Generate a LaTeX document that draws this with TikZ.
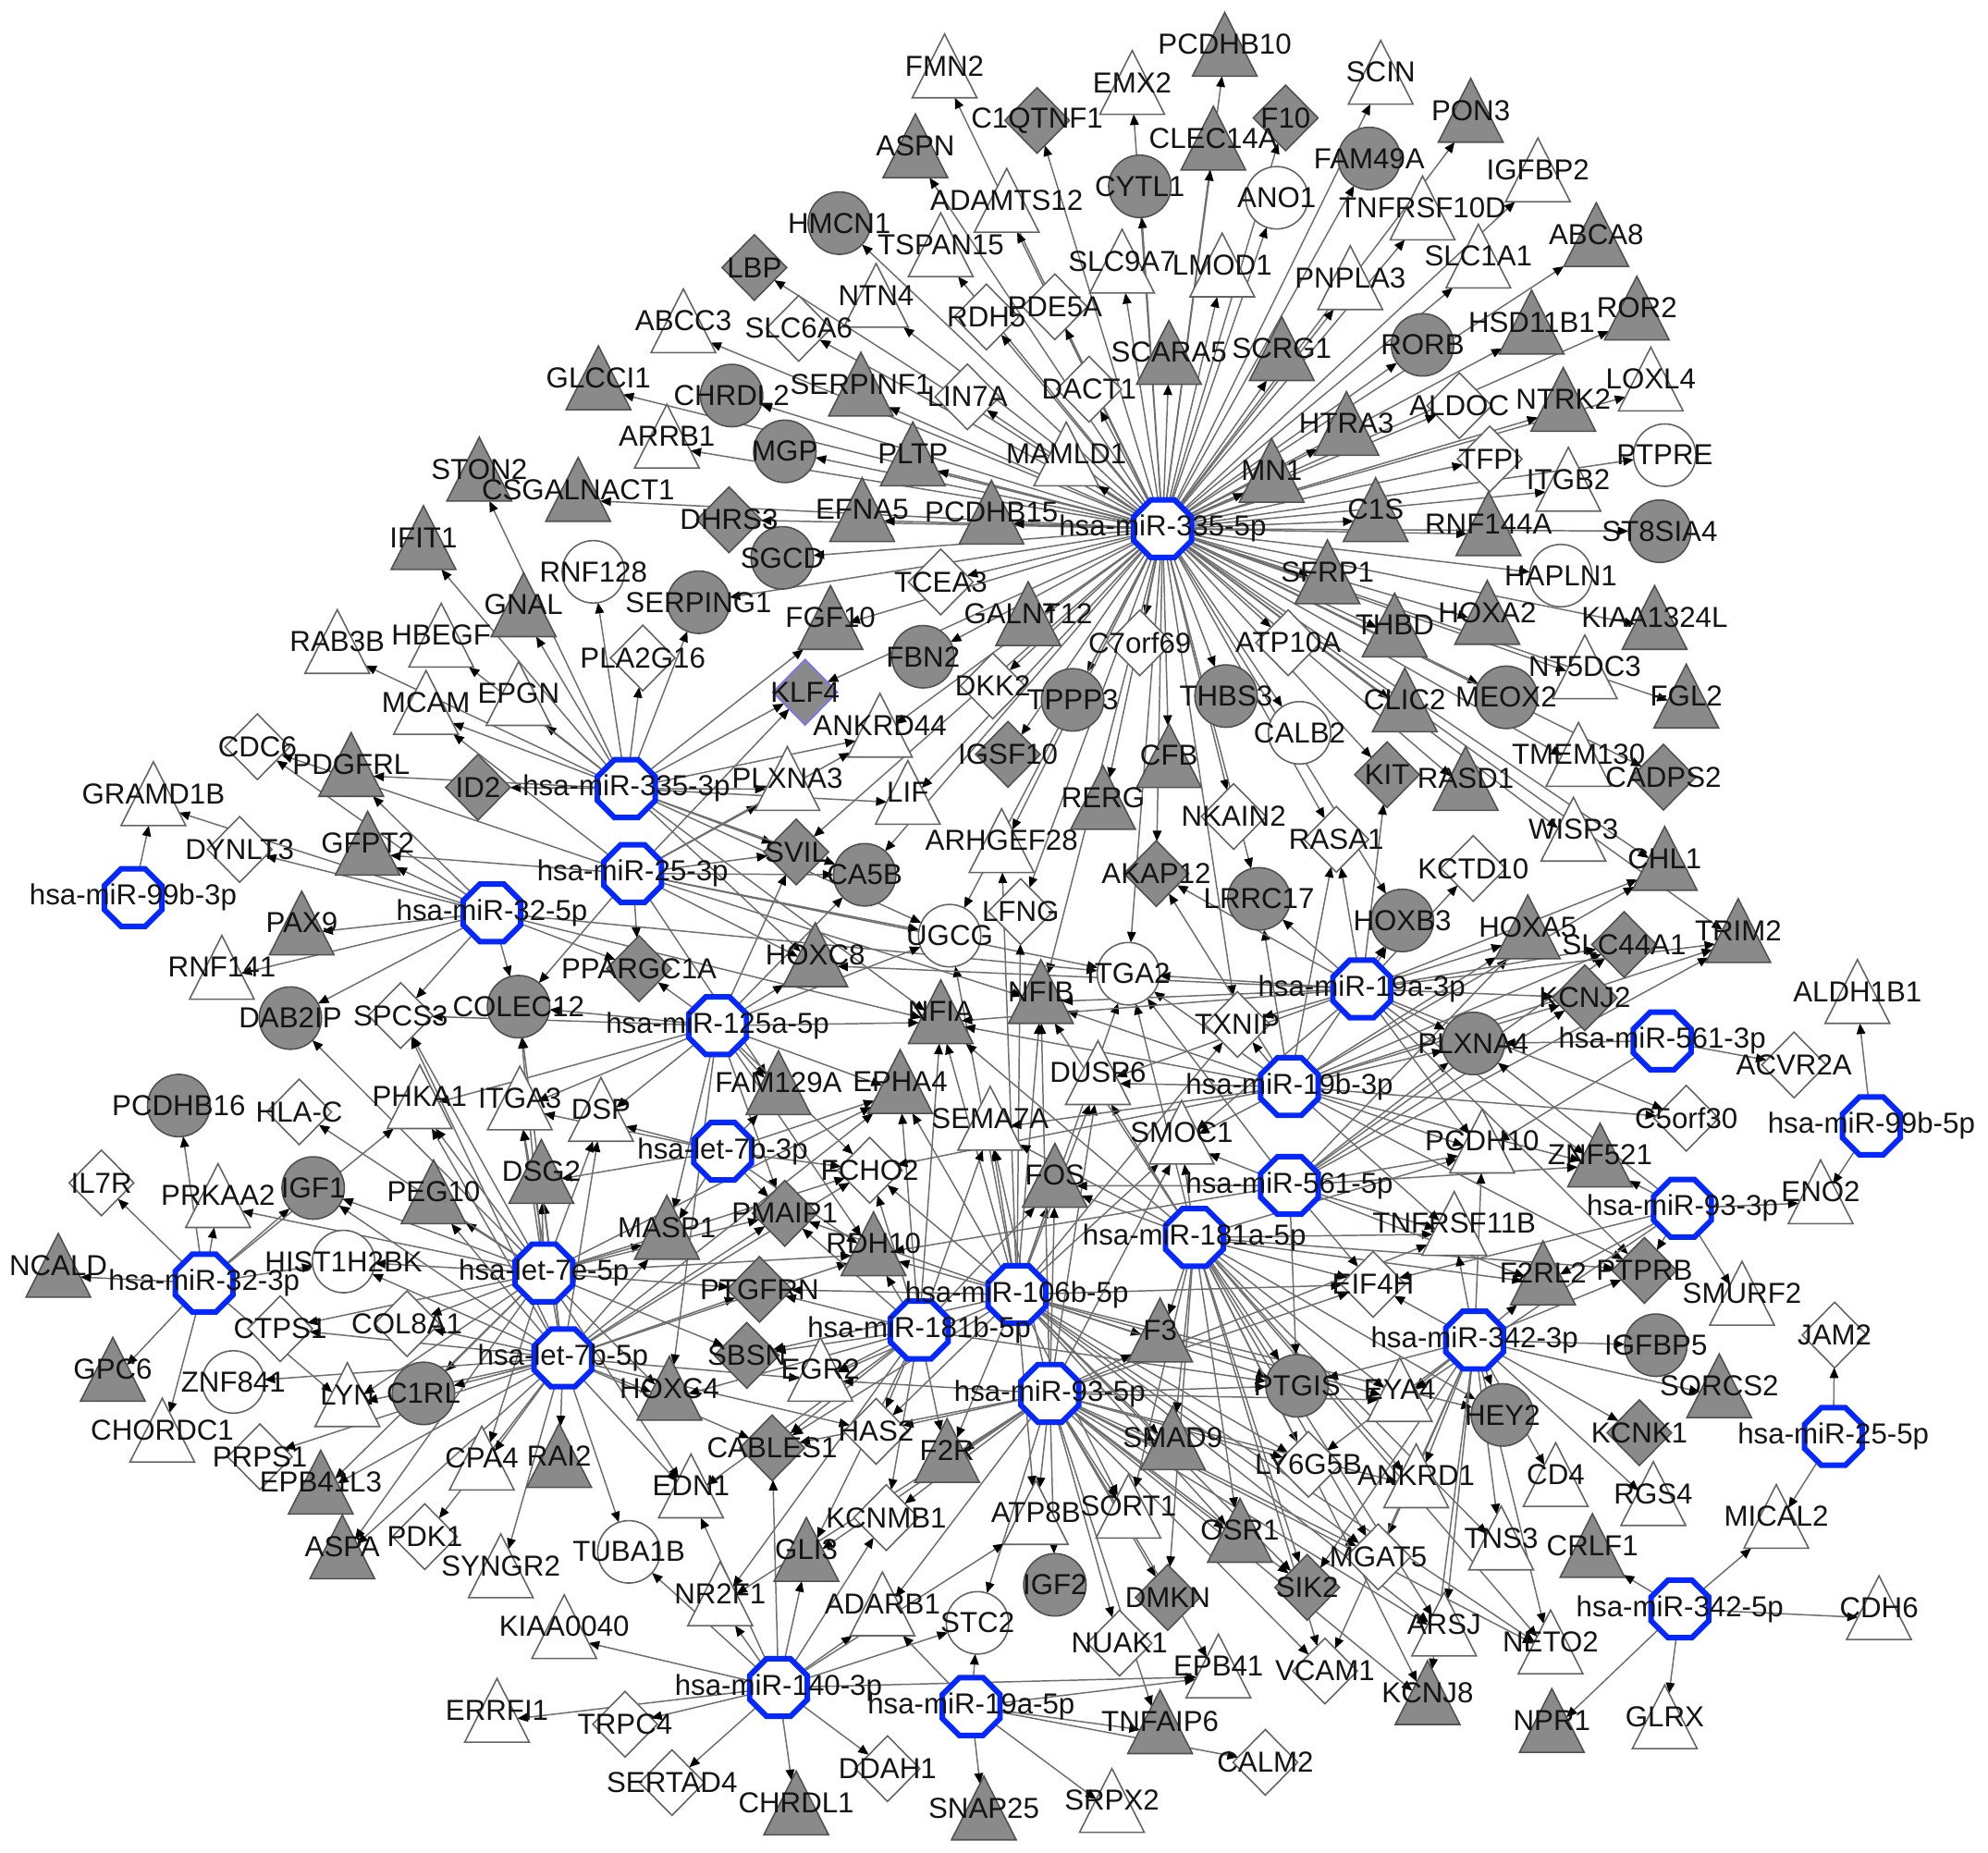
\documentclass[tikz,border=0pt]{standalone}
\usepackage{fontspec}
\setmainfont{Liberation Sans}
\usetikzlibrary{shapes.geometric,arrows.meta}
\definecolor{gfill}{RGB}{138,138,138}
\definecolor{gline}{RGB}{80,80,80}
\definecolor{wline}{RGB}{100,100,100}
\definecolor{ecol}{RGB}{110,110,110}
\definecolor{hubblue}{RGB}{5,40,255}
\definecolor{txt}{RGB}{20,20,20}
\pgfdeclarelayer{bg}\pgfdeclarelayer{edges}\pgfdeclarelayer{labels}
\pgfsetlayers{bg,edges,main,labels}
\tikzset{
 nb/.style={inner sep=0pt,outer sep=0pt,line width=0.45pt},
 trishape/.style={nb,regular polygon,regular polygon sides=3,minimum size=0.808cm,yshift=-0.115cm,yscale=1.138},
 tg/.style={trishape,fill=gfill,draw=gline},
 tw/.style={trishape,fill=white,draw=wline},
 dg/.style={nb,diamond,minimum width=0.70cm,minimum height=0.71cm,fill=gfill,draw=gline},
 dw/.style={nb,diamond,minimum width=0.70cm,minimum height=0.71cm,fill=white,draw=wline},
 dk/.style={dg,draw=blue!55},
 cg/.style={nb,circle,minimum size=0.675cm,fill=gfill,draw=gline},
 cw/.style={nb,circle,minimum size=0.675cm,fill=white,draw=wline},
 hub/.style={regular polygon,regular polygon sides=8,minimum size=0.675cm,inner sep=0pt,outer sep=0pt,fill=white,draw=hubblue,line width=1.7pt},
 lbl/.style={inner sep=0pt,font=\fontsize{8.9}{10}\selectfont,text=txt},
 edge/.style={draw=ecol,line width=0.42pt,-{Triangle[length=1.15mm,width=0.95mm,color=black]}},
}
\def\genelist{FMN2/745/52/tw, PCDHB10/966/35/tg, EMX2/893/65/tw, SCIN/1089/57/tw, PON3/1160/87/tg,
C1QTNF1/818/95/dg, F10/1014/93/dg, ASPN/722/115/tg, CLEC14A/957/109/tg, FAM49A/1080/125/cg,
IGFBP2/1213/134/tw, ADAMTS12/794/158/tw, CYTL1/899/147/cg, ANO1/1007/156/cw, TNFRSF10D/1122/164/tw,
HMCN1/662/176/cg, TSPAN15/742/193/tw, ABCA8/1259/185/tg, SLC9A7/885/206/tw, LMOD1/964/209/tw,
PNPLA3/1065/219/tw, SLC1A1/1166/202/tw, LBP/595/211/dg, NTN4/691/233/tw, RDH5/778/250/dw,
PDE5A/832/242/dw, HSD11B1/1208/254/tg, ROR2/1291/243/tg, RORB/1122/272/cg, ABCC3/539/253/tw,
SLC6A6/630/259/dw, SCARA5/922/278/tg, SCRG1/1011/275/tg, LOXL4/1302/299/tw, GLCCI1/472/298/tg,
CHRDL2/577/312/cg, SERPINF1/679/303/tg, LIN7A/763/313/dw, DACT1/859/307/dw, ALDOC/1151/320/dw,
NTRK2/1233/315/tg, HTRA3/1062/334/tg, ARRB1/526/344/tw, MGP/619/356/cg, PLTP/720/358/tg,
MAMLD1/841/358/tw, MN1/1003/371/tg, TFPI/1175/362/dw, ITGB2/1237/378/tw, PTPRE/1313/359/cw,
STON2/378/370/tg, CSGALNACT1/456/386/tg, C1S/1085/402/tg, RNF144A/1174/413/tg, ST8SIA4/1309/419/cg,
IFIT1/334/424/tg, DHRS3/575/410/dg, EFNA5/680/402/tg, PCDHB15/782/404/tg, SGCD/617/440/cg,
HAPLN1/1231/454/cw, RNF128/468/451/cw, TCEA3/742/459/dw, SFRP1/1047/451/tg, SERPING1/551/475/cg,
GNAL/413/477/tg, FGF10/655/487/tg, GALNT12/811/484/tg, HOXA2/1173/483/tg, KIAA1324L/1305/487/tg,
THBD/1100/493/tg, RAB3B/266/506/tw, HBEGF/348/501/tw, PLA2G16/507/519/dw, FBN2/728/518/cg,
C7orf69/899/507/dw, ATP10A/1016/507/dw, NT5DC3/1250/526/tw, MCAM/336/554/tw, EPGN/409/547/tw,
KLF4/635/546/dk, DKK2/783/541/dw, TPPP3/846/552/cg, THBS3/967/549/cg, CLIC2/1108/552/tg,
MEOX2/1188/550/cg, FGL2/1330/549/tg, CALB2/1025/578/cw, ANKRD44/694/572/tw, TMEM130/1245/595/tw,
CDC6/203/589/dw, PDGFRL/277/603/tg, IGSF10/795/595/dg, CFB/922/596/tg, KIT/1094/611/dg,
RASD1/1156/614/tg, CADPS2/1312/613/dg, GRAMD1B/121/626/tw, ID2/377/621/dg, PLXNA3/621/614/tw,
LIF/716/625/tw, RERG/870/629/tg, NKAIN2/973/644/dw, WISP3/1241/654/tw, RASA1/1054/662/dw,
DYNLT3/189/670/dw, GFPT2/290/665/tg, SVIL/628/672/dg, ARHGEF28/790/663/tw, AKAP12/912/689/dg,
LRRC17/993/709/cg, KCTD10/1162/685/dw, CHL1/1313/677/tg, CA5B/682/690/cg, PAX9/238/728/tg,
LFNG/805/719/dw, UGCG/749/738/cw, HOXB3/1106/726/cg, HOXA5/1205/731/tg, TRIM2/1371/734/tg,
RNF141/175/763/tw, HOXC8/643/753/tg, ITGA2/890/768/cw, SLC44A1/1281/745/dg, KCNJ2/1250/787/dg,
ALDH1B1/1465/782/tw, DAB2IP/229/803/cg, SPCS3/316/801/dw, COLEC12/409/794/cg, PPARGC1A/504/764/dg,
NFIB/821/782/tg, NFIA/742/798/tg, TXNIP/976/808/dw, PLXNA4/1162/823/cg, ACVR2A/1415/840/dw,
FAM129A/614/854/tg, EPHA4/710/853/tg, PCDHB16/141/872/cg, HLA-C/236/877/dw, PHKA1/331/865/tw,
ITGA3/410/866/tw, DSP/474/875/tw, DUSP6/866/846/tw, SEMA7A/781/882/tw, C5orf30/1330/882/dw,
SMOC1/932/893/tw, PCDH10/1169/900/tw, ZNF521/1262/911/tg, DSG2/427/924/tg, FCHO2/686/923/dw,
FOS/832/927/tg, IL7R/80/933/dw, PRKAA2/172/943/tw, IGF1/247/937/cg, PEG10/342/940/tg,
ENO2/1436/940/tw, MASP1/526/968/tg, PMAIP1/619/957/dg, TNFRSF11B/1147/965/tw, NCALD/46/998/tg,
HIST1H2BK/271/995/cw, RDH10/689/981/tg, F2RL2/1217/1004/tg, PTPRB/1297/1002/dg, SMURF2/1374/1020/tw,
EIF4H/1083/1013/dw, PTGFRN/599/1017/dg, COL8A1/321/1044/dw, CTPS1/221/1048/dw, F3/915/1049/tg,
IGFBP5/1306/1061/cg, JAM2/1447/1053/dw, GPC6/89/1080/tg, ZNF841/184/1090/cw, LYN/274/1100/tw,
C1RL/334/1099/cg, SBSN/589/1069/dg, EGR2/647/1080/tw, PTGIS/1023/1093/cg, SORCS2/1356/1093/tg,
HOXC4/528/1095/tg, EYA4/1104/1096/tw, HEY2/1185/1116/cg, CHORDC1/128/1128/tw, SMAD9/925/1134/tg,
KCNK1/1293/1130/dg, PRPS1/205/1149/dw, CPA4/380/1150/tw, RAI2/441/1148/tg, HAS2/691/1129/dw,
CABLES1/609/1142/dg, F2R/747/1144/tg, LY6G5B/1032/1155/dw, ANKRD1/1117/1164/tw, CD4/1227/1163/tw,
EPB41L3/253/1169/tg, EDN1/545/1172/tw, RGS4/1304/1178/tw, ATP8B/817/1193/tw, SORT1/890/1188/tw,
MICAL2/1401/1196/tw, ASPA/270/1220/tg, PDK1/335/1212/dw, KCNMB1/699/1197/dw, TUBA1B/496/1224/cw,
OSR1/978/1207/tg, TNS3/1184/1213/tw, CRLF1/1256/1219/tg, SYNGR2/395/1235/tw, GLI3/636/1222/tg,
MGAT5/1087/1228/dw, NR2F1/568/1257/tw, IGF2/832/1250/cg, DMKN/921/1260/dg, SIK2/1031/1252/dg,
ADARB1/696/1265/tw, STC2/771/1280/cw, CDH6/1482/1268/tw, KIAA0040/445/1283/tw, ARSJ/1139/1281/tw,
NETO2/1223/1295/tw, NUAK1/883/1296/dw, EPB41/961/1314/tw, VCAM1/1045/1318/dw, KCNJ8/1126/1335/tg,
ERRFI1/392/1349/tw, TRPC4/493/1360/dw, TNFAIP6/915/1358/tg, NPR1/1224/1357/tg, GLRX/1313/1354/tw,
CALM2/998/1390/dw, SERTAD4/530/1406/dw, DDAH1/700/1395/dw, CHRDL1/628/1422/tg, SNAP25/776/1426/tg,
SRPX2/877/1420/tw}
\def\hublist{m335f/917/417/hsa-miR-335-5p, m335t/494/622/hsa-miR-335-3p, m25t/499/689/hsa-miR-25-3p,
m32f/388/720/hsa-miR-32-5p, m99bt/105/708/hsa-miR-99b-3p, m125af/566/809/hsa-miR-125a-5p,
l7bt/570/908/hsa-let-7b-3p, l7ef/429/1004/hsa-let-7e-5p, l7bf/444/1071/hsa-let-7b-5p,
m32t/161/1012/hsa-miR-32-3p, m106bf/802/1021/hsa-miR-106b-5p, m181bf/725/1049/hsa-miR-181b-5p,
m93f/828/1099/hsa-miR-93-5p, m181af/942/976/hsa-miR-181a-5p, m561f/1017/935/hsa-miR-561-5p,
m19bt/1017/857/hsa-miR-19b-3p, m19at/1074/780/hsa-miR-19a-3p, m561t/1311/821/hsa-miR-561-3p,
m99bf/1476/888/hsa-miR-99b-5p, m93t/1327/953/hsa-miR-93-3p, m342t/1163/1057/hsa-miR-342-3p,
m25f/1446/1133/hsa-miR-25-5p, m342f/1325/1269/hsa-miR-342-5p, m140t/614/1331/hsa-miR-140-3p,
m19af/766/1346/hsa-miR-19a-5p}
\def\edgelist{
m335f/{FMN2,PCDHB10,EMX2,SCIN,PON3,C1QTNF1,F10,ASPN,CLEC14A,FAM49A,IGFBP2,ADAMTS12,CYTL1,ANO1,TNFRSF10D,HMCN1,TSPAN15,ABCA8,SLC9A7,LMOD1,PNPLA3,SLC1A1,LBP,NTN4,RDH5,PDE5A,HSD11B1,ROR2,RORB,ABCC3,SLC6A6,SCARA5,SCRG1,LOXL4,GLCCI1,CHRDL2,SERPINF1,LIN7A,DACT1,ALDOC,NTRK2,HTRA3,ARRB1,MGP,PLTP,MAMLD1,MN1,TFPI,ITGB2,PTPRE,CSGALNACT1,C1S,RNF144A,ST8SIA4,DHRS3,EFNA5,PCDHB15,SGCD,HAPLN1,TCEA3,SFRP1,SERPING1,GALNT12,HOXA2,KIAA1324L,THBD,C7orf69,ATP10A,NT5DC3,THBS3,CLIC2,MEOX2,FGL2,TMEM130,CADPS2,WISP3,RASD1,KIT,CALB2,CHL1,TRIM2,FBN2,DKK2,TPPP3,IGSF10,CFB,RERG,NKAIN2,RASA1,AKAP12,ANKRD44,LIF,ARHGEF28,KLF4,SVIL,CA5B,ITGA2,NFIB,TXNIP,FGF10,LRRC17,HOXB3,UGCG,LFNG},
m335t/{ID2,PDGFRL,MCAM,EPGN,HBEGF,RAB3B,GNAL,IFIT1,STON2,PLA2G16,RNF128,KLF4,FGF10,ANKRD44,PLXNA3,LIF,SVIL,CA5B,UGCG,HOXC8,NFIA,SERPING1},
m25t/{GFPT2,CDC6,PLXNA3,KLF4,SVIL,CA5B,HOXC8,NFIB,ITGA2,UGCG,PPARGC1A,COLEC12,FAM129A,ANKRD44,MCAM},
m32f/{GRAMD1B,DYNLT3,GFPT2,PAX9,RNF141,DAB2IP,SPCS3,PPARGC1A,PDGFRL,COLEC12,CDC6,NFIA,ITGA2},
m99bt/{GRAMD1B},
m125af/{FAM129A,PPARGC1A,HOXC8,SVIL,CA5B,UGCG,NFIA,EPHA4,DSP,ITGA3,PHKA1,PMAIP1,FCHO2,MASP1,SPCS3,RDH10,COLEC12,HOXC4},
l7bt/{DSP,DSG2,ITGA3,MASP1,PMAIP1,FCHO2,EPHA4,FAM129A,RDH10},
l7ef/{PEG10,HIST1H2BK,DSG2,DSP,ITGA3,PHKA1,SPCS3,COLEC12,IGF1,PRKAA2,HLA-C,DAB2IP,MASP1,PMAIP1,RDH10,PTGFRN,COL8A1,CTPS1,LYN,C1RL,EPB41L3,CPA4,EDN1,HOXC4,FCHO2,EPHA4,SBSN,ASPA},
l7bf/{PEG10,DSG2,DSP,ITGA3,PHKA1,SPCS3,COLEC12,IGF1,HIST1H2BK,COL8A1,CTPS1,ZNF841,LYN,C1RL,PRPS1,EPB41L3,ASPA,PDK1,CPA4,SYNGR2,RAI2,TUBA1B,EDN1,HOXC4,CABLES1,PTGFRN,PMAIP1,RDH10,MASP1,EPHA4,FCHO2,EGR2,HAS2},
m32t/{NCALD,IL7R,PCDHB16,PRKAA2,IGF1,PHKA1,HIST1H2BK,LYN,CHORDC1,GPC6},
m106bf/{FOS,SEMA7A,NFIA,NFIB,EPHA4,FCHO2,DUSP6,SMOC1,RDH10,PTGFRN,PMAIP1,F3,EIF4H,PTGIS,SMAD9,LY6G5B,OSR1,SIK2,MGAT5,ATP8B,SORT1,HAS2,F2R,SBSN,EGR2,CABLES1,ITGA2,TXNIP,UGCG,LFNG,ARHGEF28,ARSJ,NETO2,HEY2,EYA4},
m181bf/{PTGFRN,SBSN,EGR2,RDH10,FCHO2,PMAIP1,CABLES1,HAS2,EDN1,NR2F1,HOXC4,KCNMB1,F2R,FOS,SEMA7A,EPHA4,NFIA,GLI3,PTGIS},
m93f/{F2R,HAS2,KCNMB1,ADARB1,ATP8B,SORT1,SMAD9,OSR1,PTGIS,LY6G5B,F3,EIF4H,NUAK1,DMKN,STC2,EPB41,CABLES1,EGR2,SIK2,MGAT5,ARSJ,NETO2,KCNJ8,VCAM1,ANKRD1,EYA4,GLI3,NR2F1,SMOC1,FOS,DUSP6,SEMA7A,NFIB,TNFAIP6,TNFRSF11B,IGF2},
m181af/{EIF4H,PTGIS,F3,SMAD9,LY6G5B,OSR1,MGAT5,ARSJ,NETO2,KCNJ8,SIK2,ANKRD1,EYA4,TNFRSF11B,FOS,SMOC1,DUSP6,ITGA2,NFIB,NFIA,SEMA7A,PCDH10,F2RL2,PTPRB,VCAM1,HEY2,TNS3,SORT1,DMKN},
m561f/{TNFRSF11B,PCDH10,PLXNA4,SMOC1,FOS,EIF4H,F2RL2,ZNF521,KCNJ2,HOXA5,SLC44A1,TRIM2,PTGIS,RDH10,ITGA2},
m19bt/{TXNIP,ITGA2,NFIB,NFIA,SMOC1,DUSP6,PLXNA4,KCNJ2,SLC44A1,TRIM2,HOXA5,PCDH10,C5orf30,PTPRB,ZNF521,RASA1,LRRC17,HOXB3,SEMA7A,FCHO2,TNFRSF11B,CHL1,AKAP12},
m19at/{ITGA2,TXNIP,RASA1,LRRC17,HOXB3,HOXA5,KCNJ2,PLXNA4,PCDH10,SLC44A1,CHL1,TRIM2,KCTD10,KIT,NFIB,NFIA,DUSP6,SMOC1,C5orf30,AKAP12,HOXC8,ZNF521,PTPRB},
m561t/{ACVR2A,PLXNA4,PCDH10},
m99bf/{ALDH1B1,ENO2},
m93t/{ENO2,SMURF2,PTPRB,ZNF521,PLXNA4,F2RL2,EIF4H,EYA4},
m342t/{IGFBP5,SORCS2,KCNK1,RGS4,CD4,TNS3,NETO2,HEY2,EYA4,PTGIS,LY6G5B,ANKRD1,MGAT5,ARSJ,TNFRSF11B,PCDH10,EIF4H,F2RL2,PTPRB,SIK2,KCNJ8,VCAM1},
m25f/{JAM2,MICAL2},
m342f/{CDH6,MICAL2,CRLF1,GLRX,NPR1},
m140t/{KIAA0040,ERRFI1,TRPC4,SERTAD4,CHRDL1,DDAH1,STC2,ADARB1,GLI3,NR2F1,CABLES1,KCNMB1,EPB41,ATP8B,TUBA1B,EDN1},
m19af/{SNAP25,SRPX2,CALM2,TNFAIP6,STC2,ADARB1,EPB41}}
\begin{document}
\begin{tikzpicture}[x=0.013712cm,y=-0.013712cm]
\useasboundingbox (0,0) rectangle (1568,1461);
\begin{pgfonlayer}{bg}
\fill[white] (0,0) rectangle (1568,1461);
\end{pgfonlayer}
% node shapes
\foreach \nm/\xx/\yy/\ty in \genelist {\node[\ty] (\nm) at (\xx,\yy) {};}
\foreach \nm/\xx/\yy/\lab in \hublist {\node[hub] (\nm) at (\xx,\yy) {};}
% connectors
\begin{pgfonlayer}{edges}
\foreach \src/\tgl in \edgelist {\foreach \tgt in \tgl {\draw[edge] (\src) -- (\tgt);}}
\end{pgfonlayer}
% labels
\begin{pgfonlayer}{labels}
\foreach \nm/\xx/\yy/\ty in \genelist {\node[lbl] (\nm-l) at (\xx,\yy) {\nm};}
\foreach \nm/\xx/\yy/\lab in \hublist {\node[lbl] (\nm-l) at (\xx,\yy) {\lab};}
\end{pgfonlayer}
\end{tikzpicture}
\end{document}
